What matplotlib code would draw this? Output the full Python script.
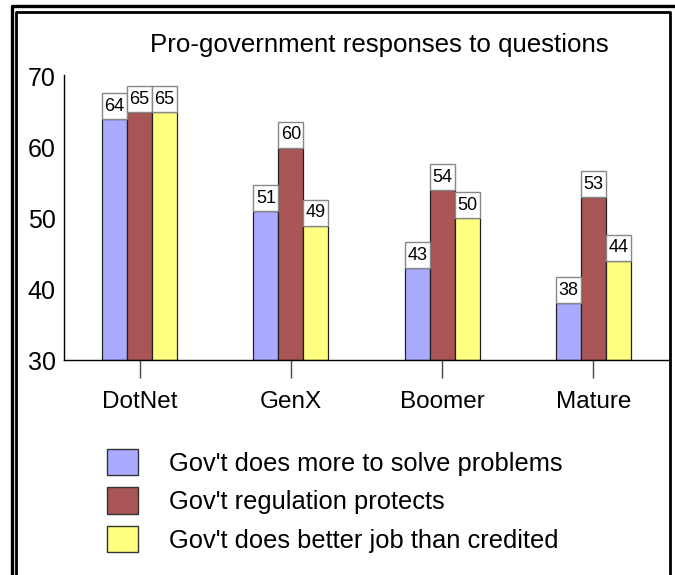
import matplotlib
matplotlib.use("Agg")
import matplotlib.pyplot as plt
from matplotlib.patches import Rectangle, Patch
import numpy as np

plt.rcParams['font.family'] = ['Liberation Sans', 'DejaVu Sans']

categories = ["DotNet", "GenX", "Boomer", "Mature"]
series_names = ["Gov't does more to solve problems",
                "Gov't regulation protects",
                "Gov't does better job than credited"]
more_to_solve = [64, 51, 43, 38]
regulation_protects = [65, 60, 54, 53]
better_job = [65, 49, 50, 44]
yticks = [30, 40, 50, 60, 70]
title = "Pro-government responses to questions"

series = [more_to_solve, regulation_protects, better_job]
colors = ["#AAAAFF", "#AA5555", "#FFFF80"]

W, H = 675, 575
fig = plt.figure(figsize=(W / 100, H / 100), dpi=100)

# decorative double frame
bg = fig.add_axes([0, 0, 1, 1], zorder=-5)
bg.set_xlim(0, W)
bg.set_ylim(H, 0)
bg.axis("off")
bg.plot([11.5, 11.5, W + 5], [H + 5, 6, 6], color="black", lw=2.4, solid_capstyle="butt")
bg.plot([16, 16, 669.5, 669.5], [H + 5, 12, 12, H + 5], color="black", lw=2.0, solid_capstyle="butt")

ax = fig.add_axes([64 / W, 1 - 360 / H, (669 - 64) / W, (360 - 75) / H])
ax.set_xlim(0, 4)
ax.set_ylim(30, 70.28)

x = np.arange(len(categories)) + 0.5
bw = 0.165
px_per_unit = (360 - 77) / 40.0
box_h = 26 / px_per_unit

for i, (vals, col) in enumerate(zip(series, colors)):
    xs = x + (i - 1) * bw
    ax.bar(xs, np.array(vals) - 30, bottom=30, width=bw, color=col,
           edgecolor="#222222", linewidth=0.9, zorder=2)
    for xi, v in zip(xs, vals):
        ax.add_patch(Rectangle((xi - bw / 2, v), bw, box_h, facecolor="white",
                               edgecolor="#888888", linewidth=1.0, zorder=3, clip_on=False))
        ax.text(xi, v + box_h / 2, str(v), ha="center", va="center",
                fontsize=13, zorder=4)

for s in ["top", "right"]:
    ax.spines[s].set_visible(False)
for s in ["left", "bottom"]:
    ax.spines[s].set_linewidth(1.0)
    ax.spines[s].set_color("black")

ax.set_yticks(yticks)
ax.tick_params(axis="y", length=0, pad=6, labelsize=18)
ax.set_xticks(x)
ax.set_xticklabels(categories)
ax.tick_params(axis="x", length=13, width=1, color="#444444", pad=9, labelsize=17.5)

fig.text(379 / W, 1 - 45 / H, title, ha="center", va="center", fontsize=18.6)

handles = [Patch(facecolor=c, edgecolor="#333333", linewidth=1.0) for c in colors]
fig.legend(handles, series_names, loc="upper left",
           bbox_to_anchor=(99 / W, 1 - 441 / H), frameon=False,
           fontsize=18.4, handlelength=1.22, handleheight=1.22,
           handletextpad=1.2, labelspacing=0.46, borderaxespad=0, borderpad=0.3)

fig.savefig("out.png", dpi=100)
